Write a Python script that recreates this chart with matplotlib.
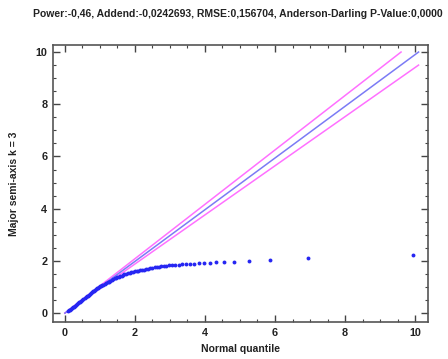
import matplotlib
matplotlib.use("Agg")
import matplotlib.pyplot as plt
from matplotlib.ticker import MultipleLocator

plt.rcParams['font.family'] = ['Liberation Sans', 'DejaVu Sans']
plt.rcParams['font.weight'] = 'bold'

title = "Power:-0,46, Addend:-0,0242693, RMSE:0,156704, Anderson-Darling P-Value:0,0000"

# normal quantile (x) vs transformed observation (y)
quantile = [
    0.08, 0.11, 0.14, 0.17, 0.20, 0.23, 0.26, 0.29, 0.32, 0.35,
    0.38, 0.41, 0.44, 0.47, 0.50, 0.53, 0.56, 0.59, 0.62, 0.65,
    0.68, 0.71, 0.74, 0.77, 0.80, 0.83, 0.86, 0.89, 0.92, 0.95,
    0.98, 1.01, 1.04, 1.07, 1.10, 1.14, 1.18, 1.22, 1.26, 1.30,
    1.34, 1.38, 1.42, 1.46, 1.50, 1.54, 1.58, 1.62, 1.66, 1.70,
    1.75, 1.80, 1.85, 1.90, 1.95, 2.00, 2.05, 2.10, 2.15, 2.20,
    2.26, 2.32, 2.38, 2.44, 2.50, 2.56, 2.62, 2.68, 2.75, 2.82,
    2.90, 2.98, 3.06, 3.15, 3.25, 3.35, 3.46, 3.58, 3.70, 3.82,
    3.97, 4.14, 4.31, 4.54, 4.83, 5.26, 5.86, 6.95, 9.94,
]
semi_axis = [
    0.09, 0.11, 0.13, 0.16, 0.19, 0.22, 0.25, 0.28, 0.31, 0.34,
    0.37, 0.41, 0.44, 0.47, 0.50, 0.54, 0.57, 0.61, 0.64, 0.67,
    0.71, 0.74, 0.77, 0.80, 0.83, 0.86, 0.89, 0.92, 0.95, 0.97,
    0.99, 1.02, 1.04, 1.06, 1.09, 1.12, 1.15, 1.18, 1.21, 1.24,
    1.27, 1.30, 1.33, 1.35, 1.38, 1.40, 1.42, 1.44, 1.46, 1.48,
    1.50, 1.52, 1.54, 1.56, 1.58, 1.60, 1.61, 1.63, 1.64, 1.66,
    1.67, 1.69, 1.70, 1.72, 1.73, 1.75, 1.76, 1.78, 1.79, 1.81,
    1.82, 1.83, 1.84, 1.85, 1.86, 1.87, 1.88, 1.89, 1.90, 1.91,
    1.92, 1.93, 1.94, 1.95, 1.96, 1.99, 2.03, 2.10, 2.22,
]

# reference line and confidence limits (end points)
ref_x = [0.0, 10.1]
ref_y = [0.0, 10.0]
upper_x = [0.0, 9.6]
upper_y = [0.0, 10.0]
lower_x = [0.0, 10.1]
lower_y = [0.0, 9.5]

fig = plt.figure(figsize=(4.48, 3.59), dpi=100)
ax = fig.add_axes([0.1183, 0.1031, 0.8371, 0.7716])

ax.plot(upper_x, upper_y, color='#ff70ff', lw=1.1, zorder=2)
ax.plot(lower_x, lower_y, color='#ff70ff', lw=1.1, zorder=2)
ax.plot(ref_x, ref_y, color='#7b7bf5', lw=1.1, zorder=2)
ax.plot(quantile, semi_axis, 'o', color='#2626f2', ms=2.8, mew=0, zorder=3)

ax.set_xlim(-0.34, 10.37)
ax.set_ylim(-0.34, 10.27)
ax.xaxis.set_major_locator(MultipleLocator(2))
ax.xaxis.set_minor_locator(MultipleLocator(0.5))
ax.yaxis.set_major_locator(MultipleLocator(2))
ax.yaxis.set_minor_locator(MultipleLocator(0.5))
ax.tick_params(which='both', direction='in', top=True, right=True,
               color='#444444', labelsize=7.8, labelcolor='#222222')
ax.tick_params(which='major', length=5, width=1, pad=4)
ax.tick_params(which='minor', length=2.5, width=0.8)
for s in ax.spines.values():
    s.set_color('#555555')
    s.set_linewidth(1.2)

ax.set_xlabel('Normal quantile', fontsize=7.5, fontweight='bold', color='#222222', labelpad=5)
ax.set_ylabel('Major semi-axis k = 3', fontsize=7.5, fontweight='bold', color='#222222', labelpad=12)

fig.text(33 / 448, 1 - 14 / 359, title, fontsize=7.5, fontweight='bold',
         color='#222222', ha='left', va='center')

fig.savefig('out.png', dpi=100)
